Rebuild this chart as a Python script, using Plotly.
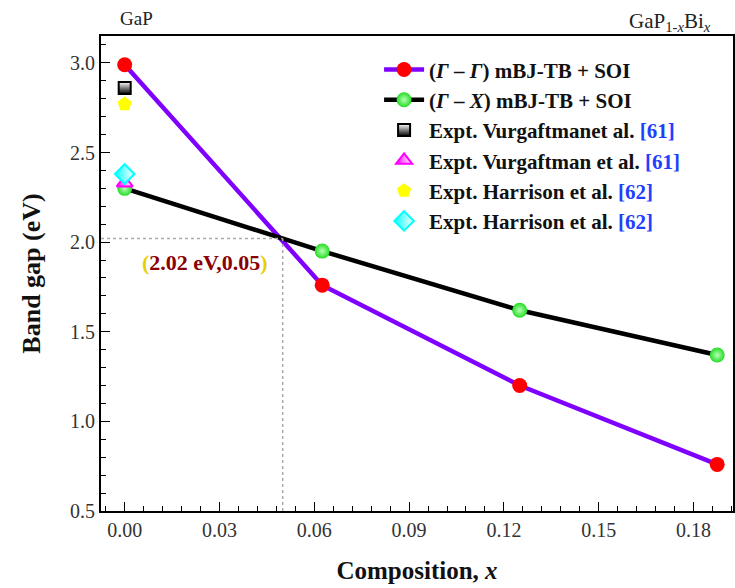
import plotly.graph_objects as go

# ---- data ----
composition = [0.0, 0.0625, 0.125, 0.1875]
gap_gamma_gamma = [2.99, 1.76, 1.20, 0.76]
gap_gamma_x = [2.30, 1.95, 1.62, 1.37]

expt_x = [0.0]
expt_vurg_1 = [2.86]
expt_vurg_2 = [2.33]
expt_harr_1 = [2.77]
expt_harr_2 = [2.38]

cross_x = 0.05
cross_y = 2.02
cross_label = "(2.02 eV,0.05)"

x_ticks = [0.00, 0.03, 0.06, 0.09, 0.12, 0.15, 0.18]
y_ticks = [0.5, 1.0, 1.5, 2.0, 2.5, 3.0]

FONT = "Liberation Serif, Times New Roman, serif"

fig = go.Figure()

fig.add_trace(go.Scatter(
    x=composition, y=gap_gamma_gamma, mode="lines+markers",
    name="(<i>Γ</i> – <i>Γ</i>) mBJ-TB + SOI",
    line=dict(color="#7F00FF", width=4.5),
    marker=dict(size=15, color="#FF0000", line=dict(width=0)),
    legendgroup="a"))
fig.add_trace(go.Scatter(
    x=composition, y=gap_gamma_x, mode="lines+markers",
    name="(<i>Γ</i> – <i>X</i>) mBJ-TB + SOI",
    line=dict(color="#000000", width=4.5),
    marker=dict(size=15, color="#22DD22",
                gradient=dict(type="radial", color="#B8FFB8"),
                line=dict(width=0)),
    legendgroup="b"))
fig.add_trace(go.Scatter(
    x=expt_x, y=expt_vurg_1, mode="markers",
    name="Expt. Vurgaftmanet al. <span style='color:#1F3FFF'>[61]</span>",
    marker=dict(symbol="square", size=12, color="#FFFFFF",
                gradient=dict(type="vertical", color="#000000"),
                line=dict(color="#000000", width=2)),
    legendgroup="c"))
fig.add_trace(go.Scatter(
    x=expt_x, y=expt_vurg_2, mode="markers",
    name="Expt. Vurgaftman et al. <span style='color:#1F3FFF'>[61]</span>",
    marker=dict(symbol="triangle-up", size=14, color="#FF00FF",
                gradient=dict(type="horizontal", color="#FFFFFF"),
                line=dict(color="#FF00FF", width=2)),
    legendgroup="d"))
fig.add_trace(go.Scatter(
    x=expt_x, y=expt_harr_1, mode="markers",
    name="Expt. Harrison et al. <span style='color:#1F3FFF'>[62]</span>",
    marker=dict(symbol="pentagon", size=15, color="#FFFF00",
                line=dict(width=0)),
    legendgroup="e"))
fig.add_trace(go.Scatter(
    x=expt_x, y=expt_harr_2, mode="markers",
    name="Expt. Harrison et al. <span style='color:#1F3FFF'>[62]</span>",
    marker=dict(symbol="diamond", size=15, color="#00FFFF",
                gradient=dict(type="horizontal", color="#FFFFFF"),
                line=dict(color="#00FFFF", width=2)),
    legendgroup="f"))

# dotted guide lines at the crossing point
fig.add_shape(type="line", xref="x", yref="y", x0=-0.0075, x1=cross_x,
              y0=cross_y, y1=cross_y,
              line=dict(color="#AAAAAA", width=1.5, dash="dot"))
fig.add_shape(type="line", xref="x", yref="y", x0=cross_x, x1=cross_x,
              y0=0.5, y1=cross_y,
              line=dict(color="#AAAAAA", width=1.5, dash="dot"))

fig.add_annotation(
    x=0.0253, y=1.885, xref="x", yref="y", showarrow=False,
    text="<span style='color:#E8D000'>(</span>" + cross_label[1:-1] +
         "<span style='color:#E8D000'>)</span>",
    font=dict(family=FONT, size=22, color="#8B0000", weight="bold"))

W, H, L, R, T, B = 735, 588, 101, 0, 36, 77
fig.add_annotation(x=(137 - L) / (W - L - R), y=(H - B - 18) / (H - T - B),
                   xref="paper", yref="paper", xanchor="center", yanchor="middle",
                   showarrow=False, text="GaP",
                   font=dict(family=FONT, size=19, color="#222222"))
fig.add_annotation(x=(672 - L) / (W - L - R), y=(H - B - 22) / (H - T - B),
                   xref="paper", yref="paper", xanchor="center", yanchor="middle",
                   showarrow=False,
                   text="GaP<sub>1-<i>x</i></sub>Bi<sub><i>x</i></sub>",
                   font=dict(family=FONT, size=21, color="#222222"))

fig.update_layout(
    width=W, height=H,
    margin=dict(l=L, r=R, t=T, b=B),
    paper_bgcolor="white", plot_bgcolor="white",
    font=dict(family=FONT, color="#222222"),
    showlegend=True,
    legend=dict(x=0.44, y=0.972, xanchor="left", yanchor="top",
                bgcolor="rgba(0,0,0,0)", tracegroupgap=0,
                font=dict(family=FONT, size=21, color="#111111", weight="bold"),
                itemwidth=40),
    xaxis=dict(range=[-0.0075, 0.1925], tickvals=x_ticks, tickformat=".2f",
               ticks="inside", ticklen=9, tickwidth=1.2, tickcolor="#000",
               minor=dict(dtick=0.006, tick0=0, ticks="inside", ticklen=5, tickcolor="#000"),
               showline=True, linecolor="#000", linewidth=1.8, mirror=True,
               showgrid=False, zeroline=False,
               tickfont=dict(family=FONT, size=20, color="#333333"),
               title=dict(text="<b>Composition, <i>x</i></b>", standoff=22,
                          font=dict(family=FONT, size=25, color="#111111"))),
    yaxis=dict(range=[0.5, 3.15], tickvals=y_ticks, tickformat=".1f",
               ticks="inside", ticklen=9, tickwidth=1.2, tickcolor="#000",
               minor=dict(dtick=0.1, ticks="inside", ticklen=5, tickcolor="#000"),
               showline=True, linecolor="#000", linewidth=1.8, mirror=True,
               showgrid=False, zeroline=False,
               tickfont=dict(family=FONT, size=20, color="#333333"),
               title=dict(text="<b>Band gap (eV)</b>", standoff=22,
                          font=dict(family=FONT, size=26, color="#111111"))),
)

fig.write_html("out.html")
